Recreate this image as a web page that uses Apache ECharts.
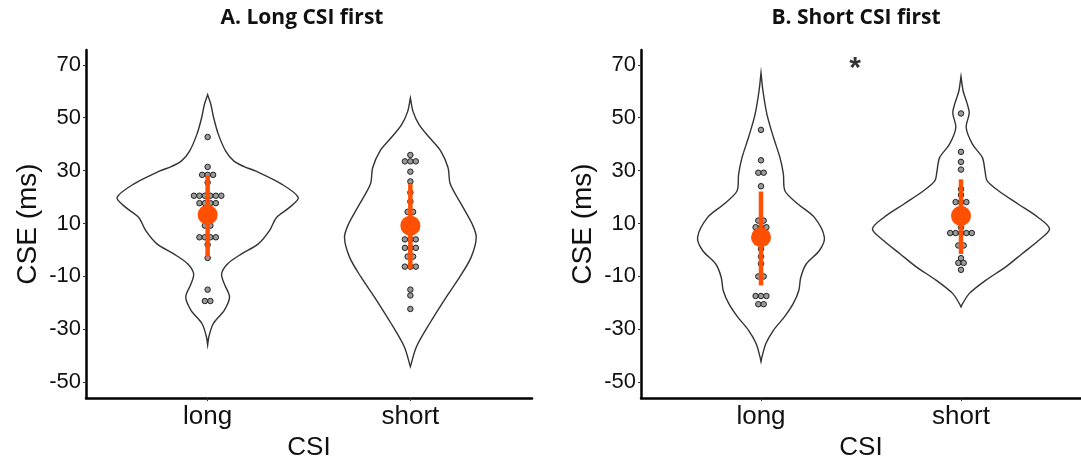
<!DOCTYPE html>
<html>
<head>
  <meta charset="utf-8">
</head>
<body style="margin: 0">
  <div id="container" style="width: 1081px; height: 466px"></div>
  <script type="text/javascript" src="https://cdn.jsdelivr.net/npm/echarts@6/dist/echarts.min.js"></script>
  <script type="text/javascript">
var categories = ['long', 'short'];
var yTicks = [-50, -30, -10, 10, 30, 50, 70];
var panelTitles = ['A. Long CSI first', 'B. Short CSI first'];

// individual CSE values (ms), one entry per dot
var dotsALong = [42.7, 31.4, 28.4, 28.4, 28.4, 25.5, 20.5, 20.5, 20.5, 20.5, 20.5, 20.5,
  17.7, 17.7, 17.7, 17.7, 9.2, 9.2, 4.8, 4.8, 4.8, 4.8, 2.0, -3.0, -15.0, -19.3, -19.3];
var dotsAShort = [35.9, 33.5, 33.5, 33.5, 29.6, 25.9, 21.7, 18.3, 14.4, 14.4, 4.0, 4.0, 4.0,
  0.8, 0.8, 0.8, -2.5, -2.5, -6.3, -6.3, -6.3, -15.0, -17.2, -22.3];
var dotsBLong = [45.4, 33.9, 29.2, 29.2, 24.1, 11.1, 11.1, 8.6, 8.6, 8.6, 0.4, -2.5, -5.2,
  -10.0, -10.0, -17.4, -17.4, -17.4, -20.5, -20.5];
var dotsBShort = [51.6, 37.1, 33.3, 30.4, 23.0, 20.8, 18.1, 18.1, 18.1, 8.5, 6.4, 6.4, 6.4, 6.4, 6.4,
  1.7, 1.7, -3.1, -4.9, -4.9, -7.5];

// mean and error bar ends, [long, short]
var meanA = [13.3, 9.2];
var lowA = [-2.5, -7.1];
var highA = [28.2, 24.9];
var meanB = [4.8, 12.9];
var lowB = [-13.4, -1.5];
var highB = [22.1, 26.7];

// violin outlines: [CSE, half width in category units]
var violinALong = [[58.7, 0], [55.0, 0.016], [49.9, 0.030], [43.7, 0.053], [37.4, 0.089], [33.6, 0.130],
  [31.5, 0.180], [29.9, 0.235], [24.9, 0.365], [19.8, 0.447], [16.1, 0.404], [12.3, 0.340], [7.3, 0.305], [2.3, 0.250],
  [-1.5, 0.167], [-5.2, 0.099], [-9.0, 0.069], [-12.8, 0.082], [-17.8, 0.108], [-22.8, 0.082],
  [-27.8, 0.028], [-32.8, 0.006], [-36.0, 0]];
var violinAShort = [[57.5, 0], [52.4, 0.013], [47.4, 0.043], [42.4, 0.095], [37.4, 0.150], [31.1, 0.186],
  [24.9, 0.197], [16.1, 0.260], [9.8, 0.305], [4.8, 0.325], [-2.7, 0.300], [-10.3, 0.243],
  [-17.8, 0.177], [-27.8, 0.095], [-36.6, 0.030], [-44.1, 0]];
var violinBLong = [[67.0, 0], [60.0, 0.010], [51.2, 0.030], [42.4, 0.063], [34.9, 0.095], [28.6, 0.112],
  [22.3, 0.120], [17.3, 0.186], [12.3, 0.267], [4.8, 0.317], [-0.2, 0.292], [-5.2, 0.227],
  [-10.3, 0.199], [-15.3, 0.189], [-20.3, 0.161], [-25.3, 0.117], [-30.3, 0.063], [-35.3, 0.025],
  [-40.4, 0.005], [-42.2, 0]];
var violinBShort = [[65.6, 0], [60.0, 0.011], [55.5, 0.030], [51.8, 0.041], [46.2, 0.026], [39.9, 0.058],
  [34.9, 0.107], [29.9, 0.120], [26.1, 0.131], [22.3, 0.189], [17.3, 0.287], [12.3, 0.386],
  [7.9, 0.443], [3.5, 0.386], [-1.5, 0.304], [-6.5, 0.222], [-11.5, 0.123], [-16.5, 0.041],
  [-20.3, 0.008], [-21.5, 0]];

var ORANGE = '#ff4f00';
var DOT_STEP = 0.027; // horizontal dot spacing, category units

var dom = document.getElementById('container');
var myChart = echarts.init(dom, null, { renderer: 'canvas' });

// stack equal values side by side, centred on the category
function dotPoints(values, cat) {
  var counts = {};
  values.forEach(function (v) { counts[v] = (counts[v] || 0) + 1; });
  var seen = {};
  return values.map(function (v) {
    var i = seen[v] || 0;
    seen[v] = i + 1;
    return [cat + (i - (counts[v] - 1) / 2) * DOT_STEP, v];
  });
}

function violinSeries(outlines, idx) {
  return {
    type: 'custom',
    xAxisIndex: idx,
    yAxisIndex: idx,
    z: 1,
    data: [[1], [2]],
    renderItem: function (params, api) {
      var o = outlines[params.dataIndex];
      var c = api.value(0);
      var right = o.map(function (p) { return api.coord([c + p[1], p[0]]); });
      var left = o.slice().reverse().map(function (p) { return api.coord([c - p[1], p[0]]); });
      return {
        type: 'polygon',
        shape: { points: right.concat(left), smooth: 0.3 },
        style: { fill: '#fff', stroke: '#333', lineWidth: 1.4 }
      };
    }
  };
}

function dotSeries(pts, idx) {
  return {
    type: 'scatter',
    xAxisIndex: idx,
    yAxisIndex: idx,
    z: 2,
    symbolSize: 5.5,
    itemStyle: { color: '#9a9a9a', borderColor: '#222', borderWidth: 1, opacity: 1 },
    data: pts
  };
}

function barSeries(low, high, idx) {
  return {
    type: 'custom',
    xAxisIndex: idx,
    yAxisIndex: idx,
    z: 3,
    data: [[1, low[0], high[0]], [2, low[1], high[1]]],
    renderItem: function (params, api) {
      var a = api.coord([api.value(0), api.value(1)]);
      var b = api.coord([api.value(0), api.value(2)]);
      return {
        type: 'line',
        shape: { x1: a[0], y1: a[1], x2: b[0], y2: b[1] },
        style: { stroke: ORANGE, lineWidth: 4.5 }
      };
    }
  };
}

function meanSeries(means, idx) {
  return {
    type: 'scatter',
    xAxisIndex: idx,
    yAxisIndex: idx,
    z: 4,
    symbolSize: 20,
    itemStyle: { color: ORANGE, opacity: 1 },
    data: [[1, means[0]], [2, means[1]]]
  };
}

function makeX(idx) {
  return {
    type: 'value',
    gridIndex: idx,
    min: 0.4,
    max: 2.6,
    name: 'CSI',
    nameLocation: 'middle',
    nameGap: 33,
    nameTextStyle: { fontFamily: 'Liberation Sans', fontSize: 26, color: '#111', verticalAlign: 'top' },
    axisLine: { show: true, onZero: false, lineStyle: { color: '#000', width: 2.5 } },
    axisTick: { show: true, length: 3, customValues: [1, 2], lineStyle: { color: '#333' } },
    axisLabel: {
      customValues: [1, 2],
      margin: 6,
      fontFamily: 'Liberation Sans',
      fontSize: 26,
      color: '#111',
      formatter: function (v) { return categories[Math.round(v) - 1]; }
    },
    splitLine: { show: false }
  };
}

function makeY(idx) {
  return {
    type: 'value',
    gridIndex: idx,
    min: -56,
    max: 75.6,
    name: 'CSE (ms)',
    nameLocation: 'middle',
    nameGap: 44,
    nameTextStyle: { fontFamily: 'Liberation Sans', fontSize: 28, color: '#111' },
    axisLine: { show: true, onZero: false, lineStyle: { color: '#000', width: 2.5 } },
    axisTick: { show: true, length: 3, customValues: yTicks, lineStyle: { color: '#333' } },
    axisLabel: {
      customValues: yTicks,
      margin: 5,
      fontFamily: 'Liberation Sans',
      fontSize: 22,
      color: '#111'
    },
    splitLine: { show: false }
  };
}

var titleStyle = { fontFamily: 'Open Sans', fontWeight: 'bold', fontSize: 21, color: '#111' };

var option = {
  animation: false,
  backgroundColor: '#fff',
  title: [
    { text: panelTitles[0], left: 297, top: 3, textAlign: 'center', textStyle: titleStyle },
    { text: panelTitles[1], left: 851, top: 3, textAlign: 'center', textStyle: titleStyle }
  ],
  grid: [
    { left: 86, top: 50, width: 446, height: 350 },
    { left: 641, top: 50, width: 446, height: 350 }
  ],
  xAxis: [makeX(0), makeX(1)],
  yAxis: [makeY(0), makeY(1)],
  series: [
    violinSeries([violinALong, violinAShort], 0),
    violinSeries([violinBLong, violinBShort], 1),
    dotSeries(dotPoints(dotsALong, 1).concat(dotPoints(dotsAShort, 2)), 0),
    dotSeries(dotPoints(dotsBLong, 1).concat(dotPoints(dotsBShort, 2)), 1),
    barSeries(lowA, highA, 0),
    barSeries(lowB, highB, 1),
    meanSeries(meanA, 0),
    meanSeries(meanB, 1),
    {
      // significance mark between the two CSI groups
      type: 'scatter',
      xAxisIndex: 1,
      yAxisIndex: 1,
      symbolSize: 0,
      data: [[1.47, 68.5]],
      label: {
        show: true,
        formatter: '*',
        position: 'inside',
        fontFamily: 'Liberation Sans',
        fontWeight: 'bold',
        fontSize: 30,
        color: '#000'
      }
    }
  ]
};

myChart.setOption(option);
window.addEventListener('resize', myChart.resize);
  </script>
</body>
</html>
